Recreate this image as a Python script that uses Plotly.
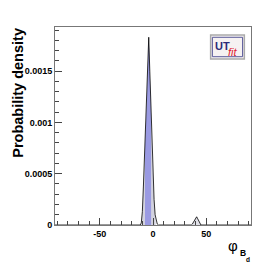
import numpy as np
import plotly.graph_objects as go

# main peak (phi_Bd in degrees) and density
x_main = [-12, -11, -10, -9, -8, -7, -6, -5, -4, -3, -2, -1, 0, 1, 2, 3, 4, 5]
y_main = [0.0, 0.00002, 0.00013, 0.00038, 0.00065, 0.0009, 0.00118, 0.0015, 0.00183,
          0.0015, 0.00115, 0.0008, 0.0005, 0.00025, 0.0001, 0.00003, 0.00001, 0.0]
# secondary peak
x_sec = [36, 37, 38, 39, 40, 41, 42, 43, 44, 45]
y_sec = [0.0, 0.00001, 0.00003, 0.00005, 0.00007, 0.00008, 0.00006, 0.00004, 0.00002, 0.0]

x_range = [-92, 92]
hpd68 = [-7.5, -1.8]
hpd95 = [-11.0, 2.5]

x_ticks = [-50, 0, 50]
x_ticklabels = ["-50", "0", "50"]
y_ticks = [0, 0.0005, 0.001, 0.0015]
y_ticklabels = ["0", "0.0005", "0.001", "0.0015"]

xm = np.array(x_main, float)
ym = np.array(y_main, float)


def region(lo, hi):
    xs = np.concatenate([[lo], xm[(xm > lo) & (xm < hi)], [hi]])
    return xs, np.interp(xs, xm, ym)


fig = go.Figure()
x_all = [x_range[0]] + x_main + x_sec + [x_range[1]]
y_all = [0.0] + y_main + y_sec + [0.0]

x95, y95 = region(*hpd95)
fig.add_trace(go.Scatter(x=x95, y=y95, fill="tozeroy", mode="none",
                         fillcolor="#d2d2de", hoverinfo="skip"))
fig.add_trace(go.Scatter(x=x_sec, y=y_sec, fill="tozeroy", mode="none",
                         fillcolor="#e0e0e8", hoverinfo="skip"))
x68, y68 = region(*hpd68)
fig.add_trace(go.Scatter(x=x68, y=y68, fill="tozeroy", mode="none",
                         fillcolor="#9a9ae2", hoverinfo="skip"))
fig.add_trace(go.Scatter(x=x_all, y=y_all, mode="lines",
                         line=dict(color="black", width=0.8)))

font = "Liberation Sans, Arial, sans-serif"
axis_common = dict(showgrid=False, zeroline=False, ticks="inside", ticklen=7,
                   tickcolor="#444", linecolor="#777", linewidth=1, mirror=True,
                   showline=True,
                   tickfont=dict(family=font, size=9, color="black", weight="bold"))
fig.update_xaxes(range=x_range, tickvals=x_ticks, ticktext=x_ticklabels,
                 minor=dict(ticks="inside", ticklen=4, dtick=10, tick0=0, tickcolor="#444"),
                 **axis_common)
fig.update_yaxes(range=[0, 0.00193], tickvals=y_ticks, ticktext=y_ticklabels,
                 minor=dict(ticks="inside", ticklen=4, dtick=0.0001, tick0=0, tickcolor="#444"),
                 **axis_common)

fig.update_layout(
    width=279, height=266, showlegend=False,
    margin=dict(l=55, r=28, t=27, b=41),
    paper_bgcolor="white", plot_bgcolor="white",
    font=dict(family=font),
    annotations=[
        dict(text="<b>Probability density</b>", xref="paper", yref="paper",
             x=-0.19, y=1.005, xanchor="center", yanchor="top", textangle=-90,
             showarrow=False, font=dict(size=14.5, color="black")),
        dict(text="φ", xref="paper", yref="paper",
             x=0.908, y=-0.106, xanchor="center", yanchor="middle",
             showarrow=False, font=dict(size=15, color="black")),
        dict(text="<b>B</b>", xref="paper", yref="paper",
             x=0.959, y=-0.141, xanchor="center", yanchor="middle",
             showarrow=False, font=dict(size=8.5, color="black")),
        dict(text="<b>d</b>", xref="paper", yref="paper",
             x=0.985, y=-0.172, xanchor="center", yanchor="middle",
             showarrow=False, font=dict(size=6.5, color="black")),
        dict(text="<b>UT</b>", xref="paper", yref="paper", x=0.805, y=0.945,
             xanchor="left", yanchor="top", showarrow=False,
             font=dict(size=11, color="#2b2b78")),
        dict(text="<i>fit</i>", xref="paper", yref="paper", x=0.87, y=0.915,
             xanchor="left", yanchor="top", showarrow=False,
             font=dict(size=11, color="#e02030")),
    ],
    shapes=[
        dict(type="rect", xref="paper", yref="paper", x0=0.794, x1=0.966,
             y0=0.838, y1=0.96, line=dict(color="#aaaaaa", width=1.5),
             fillcolor="#f6f2f2"),
        dict(type="rect", xref="paper", yref="paper", x0=0.803, x1=0.957,
             y0=0.85, y1=0.948, line=dict(color="#5a5a9a", width=1),
             fillcolor="rgba(0,0,0,0)"),
    ],
)

fig.write_html("out.html", config={"displayModeBar": False},
               post_script="document.body.style.margin='0';document.body.style.padding='0';")
